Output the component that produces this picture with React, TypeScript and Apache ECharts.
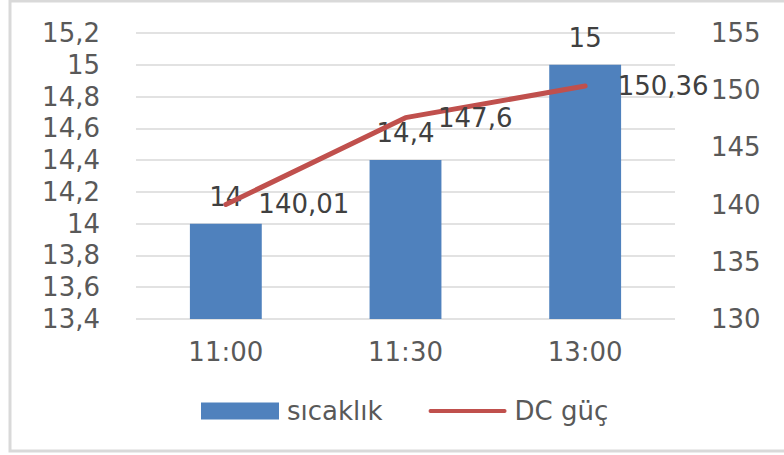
import React, { useEffect, useRef } from "react";
import * as echarts from "echarts";

const categories = ["11:00", "11:30", "13:00"];
const sicaklik = [14, 14.4, 15];
const dcGuc = [140.01, 147.6, 150.36];
const leftAxis = { min: 13.4, max: 15.2, interval: 0.2 };
const rightAxis = { min: 130, max: 155, interval: 5 };

const FONT = "DejaVu Sans";
const GRAY = "#595959";
const fmt = (v: number) => String(Math.round(v * 100) / 100).replace(".", ",");

export default function App() {
  const ref = useRef<HTMLDivElement>(null);
  useEffect(() => {
    if (!ref.current) return;
    const chart = echarts.init(ref.current, null, { renderer: "svg" });
    chart.setOption({
      animation: false,
      backgroundColor: "#ffffff",
      textStyle: { fontFamily: FONT },
      graphic: [
        {
          type: "rect",
          shape: { x: 10, y: 1, width: 790, height: 450 },
          style: { fill: "none", stroke: "#d9d9d9", lineWidth: 3 },
          silent: true,
        },
      ],
      grid: { left: 136, right: 109, top: 33, bottom: 136 },
      legend: {
        left: 196,
        top: 393,
        itemWidth: 78,
        itemHeight: 17,
        itemGap: 46,
        textStyle: { fontFamily: FONT, fontSize: 26, color: GRAY, padding: [0, 0, 0, 3] },
        data: [
          { name: "sıcaklık", icon: "rect" },
          { name: "DC güç", icon: "path://M2,0 H80 A2,2 0 0 1 80,4 H2 A2,2 0 0 1 2,0 Z" },
        ],
      },
      xAxis: {
        type: "category",
        data: categories,
        axisLine: { show: false },
        axisTick: { show: false },
        axisLabel: { fontFamily: FONT, fontSize: 26, color: GRAY, margin: 20 },
      },
      yAxis: [
        {
          type: "value",
          min: leftAxis.min,
          max: leftAxis.max,
          interval: leftAxis.interval,
          axisLine: { show: false },
          axisTick: { show: false },
          splitLine: { lineStyle: { color: "#d9d9d9", width: 1.5 } },
          axisLabel: { fontFamily: FONT, fontSize: 26, color: GRAY, margin: 36, formatter: fmt },
        },
        {
          type: "value",
          min: rightAxis.min,
          max: rightAxis.max,
          interval: rightAxis.interval,
          axisLine: { show: false },
          axisTick: { show: false },
          splitLine: { show: false },
          axisLabel: { fontFamily: FONT, fontSize: 26, color: GRAY, margin: 36, formatter: fmt },
        },
      ],
      series: [
        {
          name: "sıcaklık",
          type: "bar",
          data: sicaklik,
          barWidth: "40%",
          itemStyle: { color: "#4F81BD" },
          label: {
            show: true,
            position: "top",
            distance: 14,
            fontFamily: FONT,
            fontSize: 26,
            color: "#404040",
            formatter: (p: any) => fmt(p.value),
          },
        },
        {
          name: "DC güç",
          type: "line",
          yAxisIndex: 1,
          data: dcGuc,
          symbol: "circle",
          symbolSize: 1,
          showSymbol: true,
          lineStyle: { color: "#C0504D", width: 5, cap: "round" },
          itemStyle: { color: "#C0504D" },
          z: 3,
          label: {
            show: true,
            position: "right",
            distance: 32,
            fontFamily: FONT,
            fontSize: 26,
            color: "#404040",
            formatter: (p: any) => fmt(p.value),
          },
        },
      ],
    });
    return () => chart.dispose();
  }, []);
  return (
    <div
      ref={ref}
      style={{ position: "fixed", left: 0, top: 0, width: 784, height: 455 }}
    />
  );
}
